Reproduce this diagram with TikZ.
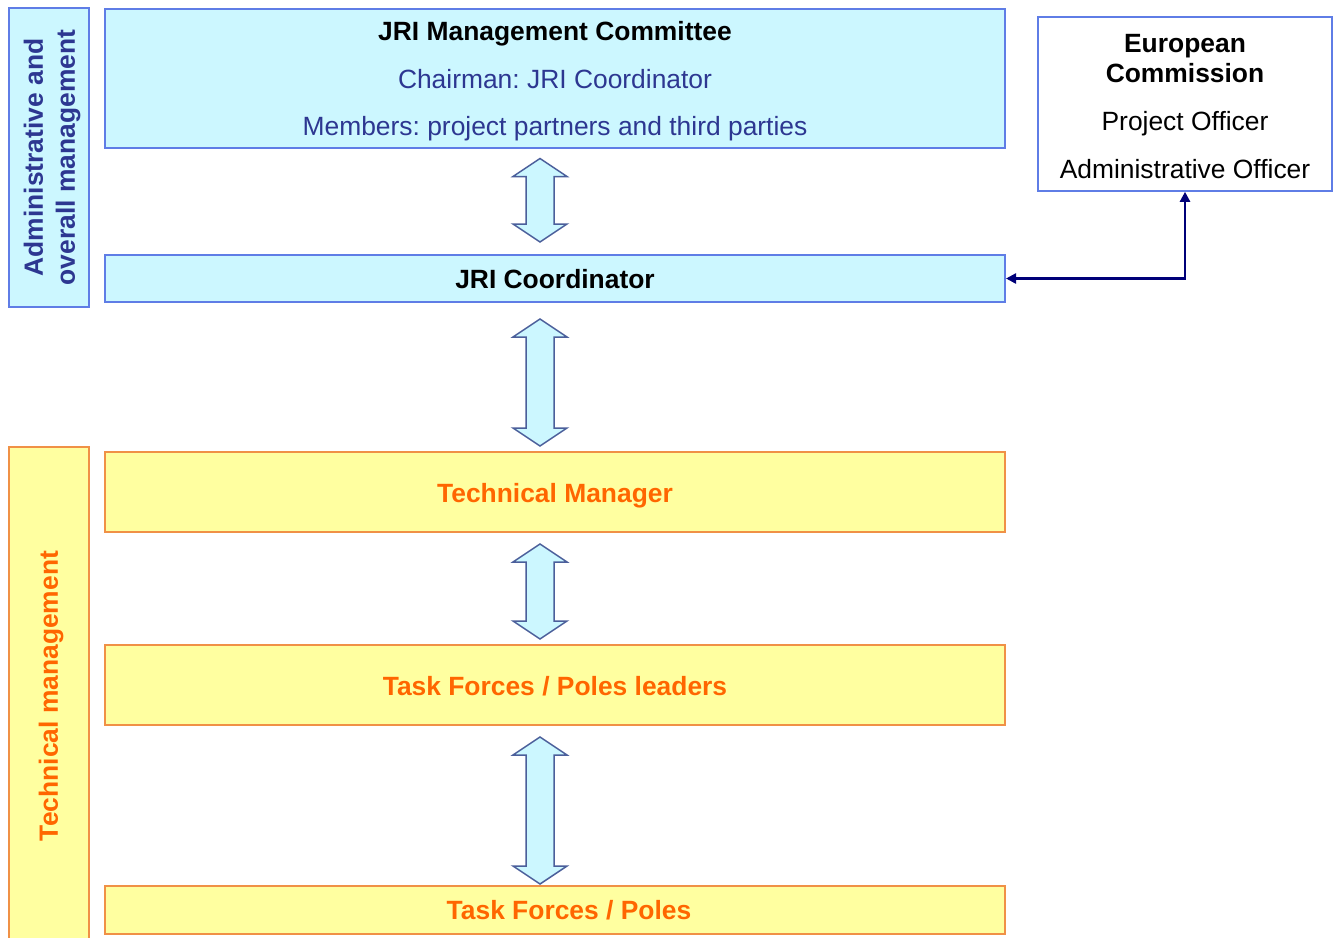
\documentclass[tikz,border=0pt]{standalone}
\usepackage{fontspec}
\setmainfont{Liberation Sans}
\usetikzlibrary{calc,arrows.meta}
\frenchspacing
\definecolor{bfill}{RGB}{204,247,255}
\definecolor{bline}{RGB}{95,125,230}
\definecolor{tblue}{RGB}{45,55,145}
\definecolor{yfill}{RGB}{255,255,160}
\definecolor{yline}{RGB}{240,145,70}
\definecolor{torange}{RGB}{255,102,0}
\definecolor{aline}{RGB}{75,95,155}
\definecolor{navy}{RGB}{0,0,120}
\newcommand\dn[2]{\raisebox{-#1}[\height][\depth]{#2}}
\newcommand\blockarrow[4]{%
  \draw[barrow] let \p1=($(#1.south)+(-15,#3)$), \p2=($(#2.north)+(-15,-#4)$) in
  (\x1,\y1) -- (\x1+13.5pt,\y1-9pt) -- (\x1+7pt,\y1-9pt) -- (\x1+7pt,\y2+9pt)
  -- (\x1+13.5pt,\y2+9pt) -- (\x1,\y2) -- (\x1-13.5pt,\y2+9pt) -- (\x1-7pt,\y2+9pt)
  -- (\x1-7pt,\y1-9pt) -- (\x1-13.5pt,\y1-9pt) -- cycle;}
\begin{document}
\begin{tikzpicture}[x=0.5pt,y=-0.5pt,
  bluebox/.style={draw=bline,fill=bfill,line width=1pt,inner sep=0pt,align=center},
  yelbox/.style={draw=yline,fill=yfill,line width=1pt,inner sep=0pt,align=center,
    text=torange,font=\fontsize{13.2}{16}\selectfont\bfseries},
  ecbox/.style={draw=bline,fill=white,line width=0.8pt,inner sep=0pt,align=center},
  barrow/.style={draw=aline,fill=bfill,line width=0.75pt,line join=miter},
  conn/.style={draw=navy,line width=1.2pt,{Triangle[length=5pt,width=5pt]}-{Triangle[length=5pt,width=5pt]}}]
\useasboundingbox[fill=white] (0,0) rectangle (1333,937);

% left side labels
\node[bluebox,rotate=90,minimum width=149.5pt,minimum height=40pt,text=tblue,
  font=\fontsize{13.2}{16}\selectfont\bfseries] (adm) at (49,157.5)
  {\dn{1.5pt}{Administrative and}\\\dn{1.5pt}{overall management}};
\node[yelbox,rotate=90,minimum width=249pt,minimum height=40pt] (tech) at (49,696)
  {\dn{1pt}{Technical management}};

% main boxes
\node[bluebox,minimum width=450pt,minimum height=69.5pt,text=tblue,
  font=\fontsize{13.2}{23.75}\selectfont] (mc) at (555,78)
  {\dn{1.75pt}{\textbf{\color{black}JRI Management Committee}}\\\dn{1.75pt}{Chairman: JRI Coordinator}\\\dn{1.75pt}{Members: project partners and third parties}};
\node[bluebox,minimum width=450pt,minimum height=23.5pt,
  font=\fontsize{13.2}{16}\selectfont\bfseries] (coord) at (555,278.5) {\dn{0.5pt}{JRI Coordinator}};
\node[yelbox,minimum width=450pt,minimum height=40pt] (tm) at (555,492) {\dn{1.75pt}{Technical Manager}};
\node[yelbox,minimum width=450pt,minimum height=40pt] (tfl) at (555,685) {\dn{0.5pt}{Task Forces / Poles leaders}};
\node[yelbox,minimum width=450pt,minimum height=24pt] (tf) at (555,910) {\hspace*{14pt}Task Forces / Poles};

% European Commission
\node[ecbox,minimum width=147pt,minimum height=87pt,
  font=\fontsize{13.2}{15}\selectfont] (ec) at (1185,104)
  {\dn{1.5pt}{\textbf{European}}\\\dn{1.5pt}{\textbf{Commission}}\\[9pt]\dn{1.5pt}{Project Officer}\\[9pt]\dn{1.5pt}{Administrative Officer}};

% block arrows
\blockarrow{mc}{coord}{10}{12}
\blockarrow{coord}{tm}{16}{5}
\blockarrow{tm}{tfl}{11}{5}
\blockarrow{tfl}{tf}{11}{1}

% connector
\draw[conn] (ec.south) |- (coord.east);
\end{tikzpicture}
\end{document}
